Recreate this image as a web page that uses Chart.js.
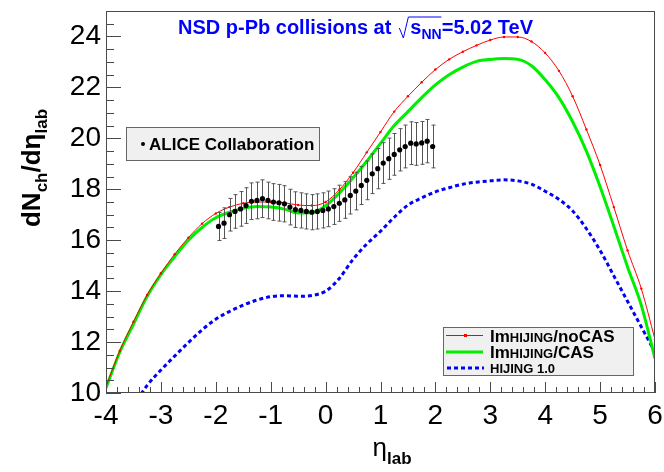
<!DOCTYPE html>
<html>
<head>
<meta charset="utf-8">
<script src="https://cdn.jsdelivr.net/npm/chart.js@4.4.1/dist/chart.umd.min.js"></script>
<style>
  html, body { margin: 0; padding: 0; background: #fff; }
</style>
</head>
<body>
<canvas id="chart" width="664" height="472"></canvas>
<script>
// model curves
const etaModel = [-4, -3.75, -3.5, -3.25, -3, -2.75, -2.5, -2.25, -2, -1.75, -1.5, -1.25, -1, -0.75, -0.5, -0.25,
  0, 0.25, 0.5, 0.75, 1, 1.25, 1.5, 1.75, 2, 2.25, 2.5, 2.75, 3, 3.25, 3.5, 3.75, 4, 4.25, 4.5, 4.75, 5, 5.25, 5.5, 5.75, 6];
const noCasValues = [10.25, 11.65, 12.8, 13.85, 14.7, 15.45, 16.1, 16.65, 17.05, 17.3, 17.45, 17.5, 17.5, 17.47, 17.38, 17.36,
  17.5, 17.98, 18.65, 19.45, 20.25, 21.05, 21.65, 22.2, 22.7, 23.1, 23.4, 23.65, 23.86, 23.98, 23.98, 23.8, 23.35, 22.65, 21.65, 20.35, 18.95, 17.3, 15.6, 14.1, 12.1];
const casValues = [10.2, 11.6, 12.7, 13.8, 14.65, 15.35, 16.0, 16.5, 16.88, 17.1, 17.25, 17.32, 17.3, 17.22, 17.07, 17.08,
  17.35, 17.85, 18.45, 19.1, 19.8, 20.5, 21.05, 21.6, 22.1, 22.5, 22.8, 23.02, 23.1, 23.13, 23.1, 22.85, 22.3, 21.6, 20.65, 19.5, 18.1, 16.55, 14.95, 13.45, 11.35];

const etaHijing = [-3.5, -3.25, -3, -2.75, -2.5, -2.25, -2, -1.75, -1.5, -1.25, -1, -0.75, -0.5, -0.25,
  0, 0.25, 0.5, 0.75, 1, 1.25, 1.5, 1.75, 2, 2.25, 2.5, 2.75, 3, 3.25, 3.5, 3.75, 4, 4.25, 4.5, 4.75, 5, 5.25, 5.5, 5.75, 6];
const hijingValues = [9.5, 10.3, 10.9, 11.45, 11.98, 12.48, 12.9, 13.2, 13.45, 13.65, 13.78, 13.82, 13.8, 13.83,
  14.0, 14.5, 15.25, 15.85, 16.35, 16.9, 17.38, 17.66, 17.9, 18.06, 18.2, 18.28, 18.33, 18.37, 18.33, 18.2, 17.92, 17.6, 17.15, 16.45, 15.6, 14.6, 13.6, 12.6, 11.6];

// ALICE points
const aliceEta = [-1.95, -1.85, -1.75, -1.65, -1.55, -1.45, -1.35, -1.25, -1.15, -1.05, -0.95, -0.85, -0.75, -0.65, -0.55, -0.45, -0.35, -0.25, -0.15, -0.05,
  0.05, 0.15, 0.25, 0.35, 0.45, 0.55, 0.65, 0.75, 0.85, 0.95, 1.05, 1.15, 1.25, 1.35, 1.45, 1.55, 1.65, 1.75, 1.85, 1.95];
const aliceValues = [16.54, 16.67, 17.0, 17.13, 17.23, 17.36, 17.53, 17.56, 17.63, 17.56, 17.5, 17.47, 17.43, 17.3, 17.2, 17.17, 17.13, 17.1, 17.13, 17.17,
  17.23, 17.32, 17.45, 17.58, 17.76, 17.93, 18.15, 18.35, 18.61, 18.81, 19.03, 19.2, 19.37, 19.55, 19.68, 19.81, 19.78, 19.82, 19.89, 19.68];
const aliceErrors = [0.55, 0.6, 0.64, 0.66, 0.68, 0.7, 0.72, 0.72, 0.74, 0.72, 0.72, 0.72, 0.71, 0.7, 0.7, 0.69, 0.69, 0.69, 0.69, 0.69,
  0.7, 0.7, 0.71, 0.72, 0.73, 0.74, 0.75, 0.76, 0.78, 0.79, 0.8, 0.81, 0.82, 0.83, 0.84, 0.84, 0.84, 0.84, 0.85, 0.84];

const xTicks = [-4, -3, -2, -1, 0, 1, 2, 3, 4, 5, 6];
const yTicks = [10, 12, 14, 16, 18, 20, 22, 24];

const FONT = "'Liberation Sans', Arial, sans-serif";

function pts(xs, ys) {
  return xs.map((x, i) => ({ x: x, y: ys[i] }));
}

// draw a row of text pieces with different fonts / offsets
function drawRuns(ctx, x, y, runs, align) {
  let total = 0;
  runs.forEach(r => { ctx.font = r.font; total += ctx.measureText(r.t).width; });
  let cx = align === 'center' ? x - total / 2 : x;
  ctx.textBaseline = 'alphabetic';
  ctx.textAlign = 'left';
  runs.forEach(r => {
    ctx.font = r.font;
    ctx.fillText(r.t, cx, y + (r.dy || 0));
    cx += ctx.measureText(r.t).width;
  });
  return cx;
}

// plot frame, ROOT style
function drawBox(chart) {
  const ctx = chart.ctx, a = chart.chartArea;
  ctx.save();
  ctx.strokeStyle = '#4a4a4a';
  ctx.lineWidth = 1;
  ctx.strokeRect(a.left + 0.5, a.top + 0.5, a.right - a.left - 1, a.bottom - a.top - 1);
  ctx.restore();
}

// inward ticks on left and bottom axes
function drawTickMarks(chart) {
  const ctx = chart.ctx, a = chart.chartArea;
  const xs = chart.scales.x, ys = chart.scales.y;
  ctx.save();
  ctx.strokeStyle = '#4a4a4a';
  ctx.lineWidth = 1;
  ctx.beginPath();
  for (let k = 0; k <= 30; k++) {
    const py = Math.round(ys.getPixelForValue(10 + k * 0.5)) + 0.5;
    ctx.moveTo(a.left, py);
    ctx.lineTo(a.left + (k % 4 === 0 ? 15 : 8), py);
  }
  for (let i = 0; i <= 50; i++) {
    const px = Math.round(xs.getPixelForValue(-4 + i * 0.2)) + 0.5;
    ctx.moveTo(px, a.bottom);
    ctx.lineTo(px, a.bottom - (i % 5 === 0 ? 11 : 6));
  }
  ctx.stroke();
  ctx.restore();
}

const rootStyle = {
  id: 'rootStyle',
  beforeDatasetsDraw(chart) {
    drawBox(chart);
  },
  beforeDatasetDraw(chart, args) {
    if (args.index !== 0) return;
    const xs = chart.scales.x, ys = chart.scales.y, ctx = chart.ctx;
    ctx.save();
    ctx.strokeStyle = '#555';
    ctx.lineWidth = 1;
    aliceEta.forEach((e, i) => {
      const px = Math.round(xs.getPixelForValue(e)) + 0.5;
      const top = ys.getPixelForValue(aliceValues[i] + aliceErrors[i]);
      const bot = ys.getPixelForValue(aliceValues[i] - aliceErrors[i]);
      ctx.beginPath();
      ctx.moveTo(px, top); ctx.lineTo(px, bot);
      ctx.moveTo(px - 2, top); ctx.lineTo(px + 2, top);
      ctx.moveTo(px - 2, bot); ctx.lineTo(px + 2, bot);
      ctx.stroke();
    });
    ctx.restore();
  },
  afterDraw(chart) {
    const ctx = chart.ctx;
    drawBox(chart);
    drawTickMarks(chart);
    ctx.save();

    // title
    ctx.fillStyle = '#0000ff';
    let tx = drawRuns(ctx, 178, 34, [{ t: 'NSD p-Pb collisions at', font: 'bold 20px ' + FONT }]);
    const sx = tx + 10;
    ctx.strokeStyle = '#0000ff';
    ctx.lineWidth = 1;
    ctx.beginPath();
    ctx.moveTo(sx - 2, 28); ctx.lineTo(sx + 2, 38); ctx.lineTo(sx + 7, 17); ctx.lineTo(sx + 40, 17);
    ctx.stroke();
    drawRuns(ctx, sx + 9, 34, [
      { t: 's', font: 'bold 20px ' + FONT },
      { t: 'NN', font: 'bold 14px ' + FONT, dy: 5 },
      { t: '=5.02 TeV', font: 'bold 20px ' + FONT }
    ]);

    // axis titles
    ctx.fillStyle = '#000';
    drawRuns(ctx, 392, 456, [
      { t: 'η', font: '26px ' + FONT },
      { t: 'lab', font: 'bold 17px ' + FONT, dy: 8 }
    ], 'center');
    ctx.save();
    ctx.translate(40, 168);
    ctx.rotate(-Math.PI / 2);
    drawRuns(ctx, 0, 0, [
      { t: 'dN', font: 'bold 26px ' + FONT },
      { t: 'ch', font: 'bold 17px ' + FONT, dy: 7 },
      { t: '/d', font: 'bold 26px ' + FONT },
      { t: 'η', font: 'bold 26px ' + FONT },
      { t: 'lab', font: 'bold 17px ' + FONT, dy: 7 }
    ], 'center');
    ctx.restore();

    // ALICE legend
    ctx.fillStyle = '#f0f0f0';
    ctx.fillRect(126, 127, 194, 33);
    ctx.strokeStyle = '#666';
    ctx.lineWidth = 1;
    ctx.strokeRect(126.5, 127.5, 193, 33);
    ctx.fillStyle = '#000';
    ctx.beginPath(); ctx.arc(143, 144, 2, 0, Math.PI * 2); ctx.fill();
    drawRuns(ctx, 149, 150, [{ t: 'ALICE Collaboration', font: 'bold 17px ' + FONT }]);

    // model legend
    ctx.fillStyle = '#f0f0f0';
    ctx.fillRect(443, 327, 190, 48);
    ctx.strokeStyle = '#666';
    ctx.strokeRect(443.5, 327.5, 190, 48);
    ctx.lineWidth = 1;
    ctx.strokeStyle = '#ff0000';
    ctx.beginPath(); ctx.moveTo(446, 335.5); ctx.lineTo(483, 335.5); ctx.stroke();
    ctx.fillStyle = '#ff0000';
    ctx.fillRect(464, 334, 3, 3);
    ctx.strokeStyle = '#00ee00';
    ctx.lineWidth = 3;
    ctx.beginPath(); ctx.moveTo(446, 352); ctx.lineTo(483, 352); ctx.stroke();
    ctx.strokeStyle = '#0000ff';
    ctx.setLineDash([4, 3]);
    ctx.beginPath(); ctx.moveTo(447, 368); ctx.lineTo(484, 368); ctx.stroke();
    ctx.setLineDash([]);
    ctx.fillStyle = '#000';
    drawRuns(ctx, 490, 342, [
      { t: 'Im', font: 'bold 17px ' + FONT },
      { t: 'HIJING', font: 'bold 13px ' + FONT },
      { t: '/noCAS', font: 'bold 17px ' + FONT }
    ]);
    drawRuns(ctx, 490, 358, [
      { t: 'Im', font: 'bold 17px ' + FONT },
      { t: 'HIJING', font: 'bold 13px ' + FONT },
      { t: '/CAS', font: 'bold 17px ' + FONT }
    ]);
    drawRuns(ctx, 490, 373, [{ t: 'HIJING 1.0', font: 'bold 13px ' + FONT }]);

    ctx.restore();
  }
};

const chart = new Chart(document.getElementById('chart').getContext('2d'), {
  type: 'scatter',
  data: {
    datasets: [
      {
        label: 'ALICE Collaboration',
        data: pts(aliceEta, aliceValues),
        showLine: false,
        pointRadius: 2.6,
        pointBackgroundColor: '#000',
        pointBorderColor: '#000',
        pointBorderWidth: 0
      },
      {
        label: 'ImHIJING/noCAS',
        data: pts(etaModel, noCasValues),
        showLine: true,
        borderColor: '#ff0000',
        borderWidth: 1,
        pointRadius: 1.2,
        pointBackgroundColor: '#ff0000',
        pointBorderWidth: 0,
        cubicInterpolationMode: 'monotone'
      },
      {
        label: 'ImHIJING/CAS',
        data: pts(etaModel, casValues),
        showLine: true,
        borderColor: '#00ee00',
        borderWidth: 3,
        pointRadius: 0,
        cubicInterpolationMode: 'monotone'
      },
      {
        label: 'HIJING 1.0',
        data: pts(etaHijing, hijingValues),
        showLine: true,
        borderColor: '#0000ff',
        borderWidth: 3,
        borderDash: [4, 3],
        pointRadius: 0,
        cubicInterpolationMode: 'monotone'
      }
    ]
  },
  options: {
    responsive: false,
    devicePixelRatio: 1,
    animation: false,
    layout: { padding: { left: 0, right: 9, top: 11, bottom: 0 } },
    plugins: {
      legend: { display: false },
      tooltip: { enabled: false }
    },
    scales: {
      x: {
        type: 'linear',
        min: -4,
        max: 6,
        afterFit: s => { s.height = 79; s.paddingLeft = 0; s.paddingRight = 0; },
        afterBuildTicks: s => { s.ticks = xTicks.map(v => ({ value: v })); },
        grid: { display: false, drawTicks: false },
        border: { display: false },
        ticks: {
          color: '#000',
          padding: 6,
          maxRotation: 0,
          font: { size: 28, family: FONT }
        }
      },
      y: {
        type: 'linear',
        min: 10,
        max: 25,
        afterFit: s => { s.width = 106; s.paddingTop = 0; s.paddingBottom = 0; },
        afterBuildTicks: s => { s.ticks = yTicks.map(v => ({ value: v })); },
        grid: { display: false, drawTicks: false },
        border: { display: false },
        ticks: {
          color: '#000',
          padding: 5,
          font: { size: 28, family: FONT }
        }
      }
    }
  },
  plugins: [rootStyle]
});
</script>
</body>
</html>
